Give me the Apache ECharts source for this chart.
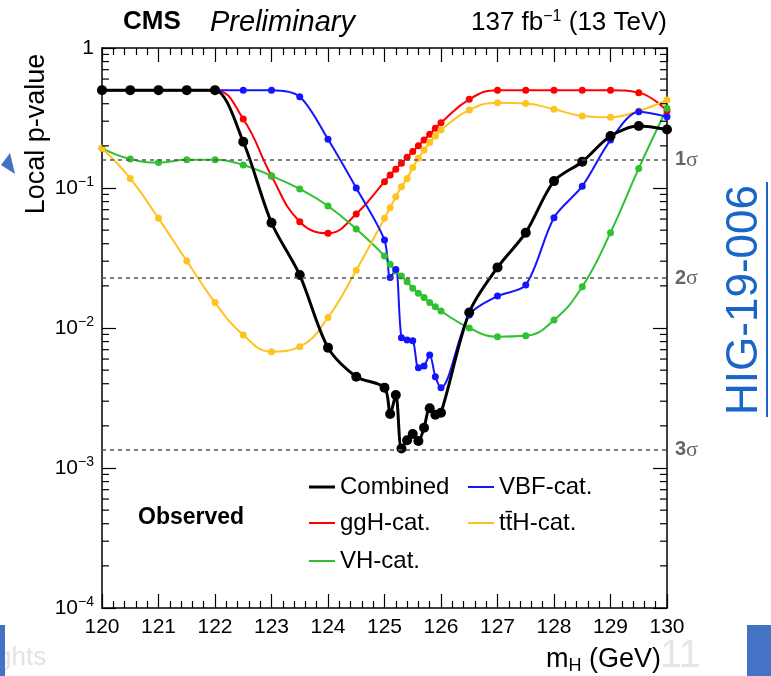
<!DOCTYPE html>
<html>
<head>
<meta charset="utf-8">
<script src="https://cdn.jsdelivr.net/npm/echarts@6/dist/echarts.min.js"></script>
<style>
html, body { margin: 0; padding: 0; background: #fff; }
#main { width: 771px; height: 676px; }
</style>
</head>
<body>
<div id="main"></div>
<script>
// mass points (GeV), shared by all curves
var massH = [120, 120.5, 121, 121.5, 122, 122.5, 123, 123.5, 124, 124.5,
    125, 125.1, 125.2, 125.3, 125.4, 125.5, 125.6, 125.7, 125.8, 125.9, 126,
    126.5, 127, 127.5, 128, 128.5, 129, 129.5, 130];

// local p-values
var pCombined = [0.5, 0.5, 0.5, 0.5, 0.5, 0.214, 0.0565, 0.0239, 0.00724, 0.00449,
    0.00375, 0.00243, 0.00332, 0.00138, 0.00158, 0.00175, 0.00156, 0.00194, 0.00267, 0.0024, 0.00248,
    0.0129, 0.0271, 0.048, 0.112, 0.154, 0.235, 0.277, 0.262];
var pGGH = [0.5, 0.5, 0.5, 0.5, 0.5, 0.311, 0.122, 0.0574, 0.0475, 0.0652,
    0.111, 0.124, 0.136, 0.15, 0.166, 0.182, 0.2, 0.22, 0.242, 0.267, 0.293,
    0.43, 0.5, 0.5, 0.5, 0.5, 0.5, 0.48, 0.355];
var pVBF = [0.5, 0.5, 0.5, 0.5, 0.5, 0.5, 0.5, 0.449, 0.223, 0.1,
    0.0425, 0.0229, 0.0262, 0.00853, 0.0082, 0.0081, 0.0052, 0.00535, 0.00641, 0.00449, 0.00375,
    0.0124, 0.0169, 0.0203, 0.0614, 0.103, 0.22, 0.351, 0.323];
var pVH = [0.192, 0.161, 0.152, 0.159, 0.159, 0.146, 0.122, 0.0984, 0.0744, 0.0509,
    0.0327, 0.0285, 0.0255, 0.0235, 0.0214, 0.0192, 0.0177, 0.0165, 0.0152, 0.0142, 0.0132,
    0.01, 0.00867, 0.00879, 0.0114, 0.0197, 0.048, 0.138, 0.371];
var pTTH = [0.192, 0.117, 0.0607, 0.0301, 0.0152, 0.0089, 0.00677, 0.00736, 0.0119, 0.0259,
    0.0607, 0.0724, 0.0866, 0.102, 0.117, 0.14, 0.163, 0.187, 0.211, 0.235, 0.26,
    0.361, 0.407, 0.402, 0.365, 0.327, 0.32, 0.355, 0.425];

// significance reference lines
var sigmaP = [0.1587, 0.02275, 0.00135];
var sigmaNames = ['1', '2', '3'];

// log axis minor ticks: 2..9 x each decade
var decades = [1e-4, 1e-3, 1e-2, 1e-1];
var minorMult = [2, 3, 4, 5, 6, 7, 8, 9];

var FONT = '"Liberation Sans", Arial, Helvetica, sans-serif';
var names = ['Combined', 'ggH-cat.', 'VH-cat.', 'VBF-cat.', 'tt\u0304H-cat.'];

var minorY = [];
decades.forEach(function (d) {
    minorMult.forEach(function (m) { minorY.push([120, m * d]); });
});

function pairs(arr) {
    return massH.map(function (x, i) { return [x, arr[i]]; });
}

function curve(name, arr, color, width, size, smooth) {
    return {
        name: name,
        type: 'line',
        data: pairs(arr),
        smooth: smooth,
        symbol: 'circle',
        symbolSize: size,
        lineStyle: { color: color, width: width },
        itemStyle: { color: color },
        z: 3
    };
}

function legendItem(name, left, top, h) {
    return {
        data: [name], left: left, top: top, padding: 0,
        icon: 'rect', itemWidth: 26, itemHeight: h, selectedMode: false,
        textStyle: { fontSize: 24, color: '#000', fontFamily: FONT }
    };
}

var tickStyle = { color: '#000', width: 1.2 };

var chart = echarts.init(document.getElementById('main'));

var ggh = curve(names[1], pGGH, '#ff0000', 2, 7, 0.45);
ggh.markLine = {
    silent: true, symbol: 'none', animation: false,
    lineStyle: { color: '#555', type: [4, 4], width: 1.5 },
    label: {
        position: 'end', distance: 8,
        formatter: function (p) { return '{n|' + p.name + '}{g|\u03c3}'; },
        rich: {
            n: { fontSize: 20, fontWeight: 'bold', color: '#666', fontFamily: FONT },
            g: { fontSize: 22, color: '#666', fontFamily: '"Liberation Serif", "Times New Roman", serif' }
        }
    },
    data: sigmaP.map(function (p, i) {
        return [{ coord: [120, p], name: sigmaNames[i] }, { coord: [130, p] }];
    })
};

var option = {
    backgroundColor: '#fff',
    animation: false,
    title: [
        { text: 'CMS', left: 123, top: 9, padding: 0,
          textStyle: { fontSize: 26, fontWeight: 'bold', color: '#000', fontFamily: FONT } },
        { text: 'Preliminary', left: 210, top: 8, padding: 0,
          textStyle: { fontSize: 29, fontStyle: 'italic', fontWeight: 'normal', color: '#000', fontFamily: FONT } },
        { text: '{a|137 fb}{s|\u22121}{a| (13 TeV)}', right: 104, top: 9, padding: 0,
          textStyle: { rich: {
              a: { fontSize: 26, fontWeight: 'normal', color: '#000', fontFamily: FONT },
              s: { fontSize: 16, fontWeight: 'normal', color: '#000', fontFamily: FONT, padding: [0, 0, 12, 0] }
          } } },
        { text: 'Observed', left: 138, top: 506, padding: 0,
          textStyle: { fontSize: 23, fontWeight: 'bold', color: '#000', fontFamily: FONT } },
        { text: '{a|m}{s|H}{a| (GeV)}', right: 110, top: 644, padding: 0,
          textStyle: { rich: {
              a: { fontSize: 27, fontWeight: 'normal', color: '#000', fontFamily: FONT },
              s: { fontSize: 18, fontWeight: 'normal', color: '#000', fontFamily: FONT, padding: [13, 0, 0, 0] }
          } } }
    ],
    legend: [
        legendItem(names[0], 309, 475, 3),
        legendItem(names[3], 468, 475, 2),
        legendItem(names[1], 309, 511, 2),
        legendItem(names[4], 468, 511, 2),
        legendItem(names[2], 309, 549, 2)
    ],
    grid: { left: 102, right: 104, top: 48, bottom: 68 },
    xAxis: [{
        type: 'value', min: 120, max: 130, interval: 1, position: 'bottom',
        axisLine: { lineStyle: { color: '#000', width: 1.5 } },
        axisTick: { inside: true, length: 14, lineStyle: tickStyle },
        minorTick: { show: true, splitNumber: 5, length: 7, lineStyle: tickStyle },
        axisLabel: { fontSize: 21, color: '#000', margin: 9, fontFamily: FONT },
        splitLine: { show: false }
    }, {
        type: 'value', min: 120, max: 130, interval: 1, position: 'top',
        axisLine: { lineStyle: { color: '#000', width: 1.5 } },
        axisTick: { inside: true, length: 14, lineStyle: tickStyle },
        minorTick: { show: true, splitNumber: 5, length: 7, lineStyle: tickStyle },
        axisLabel: { show: false },
        splitLine: { show: false }
    }],
    yAxis: [{
        type: 'log', logBase: 10, min: 1e-4, max: 1, position: 'left',
        axisLine: { show: true, lineStyle: { color: '#000', width: 1.5 } },
        axisTick: { show: true, inside: true, length: 14, lineStyle: tickStyle },
        axisLabel: {
            fontSize: 21, color: '#000', margin: 8, fontFamily: FONT,
            formatter: function (v) {
                var e = Math.round(Math.log10(v));
                if (e === 0) return '{b|1}';
                return '{b|10}{s|\u2212' + (-e) + '}';
            },
            rich: {
                b: { fontSize: 21, color: '#000', fontFamily: FONT },
                s: { fontSize: 14, color: '#000', fontFamily: FONT, padding: [0, 0, 12, 0] }
            }
        },
        splitLine: { show: false }
    }, {
        type: 'log', logBase: 10, min: 1e-4, max: 1, position: 'right',
        axisLine: { show: true, lineStyle: { color: '#000', width: 1.5 } },
        axisTick: { show: true, inside: true, length: 14, lineStyle: tickStyle },
        axisLabel: { show: false },
        splitLine: { show: false }
    }],
    graphic: [
        { type: 'text', x: 37, y: 134, rotation: Math.PI / 2,
          style: { text: 'Local p-value', fontSize: 27, fill: '#000', fontFamily: FONT,
                   align: 'center', verticalAlign: 'middle' } },
        { type: 'text', x: 745, y: 300, rotation: Math.PI / 2,
          style: { text: 'HIG-19-006', fontSize: 44, fill: '#1a66c8', fontFamily: FONT,
                   align: 'center', verticalAlign: 'middle' } },
        { type: 'line', shape: { x1: 767, y1: 182, x2: 767, y2: 417 },
          style: { stroke: '#1a66c8', lineWidth: 2 } },
        { type: 'polygon', shape: { points: [[1, 165], [10, 153], [15, 174]] },
          style: { fill: '#4472c4' } },
        { type: 'rect', shape: { x: 0, y: 625, width: 5, height: 51 }, style: { fill: '#4472c4' } },
        { type: 'rect', shape: { x: 747, y: 625, width: 24, height: 51 }, style: { fill: '#4472c4' } },
        { type: 'text', x: -3, y: 658, z: -1,
          style: { text: 'ghts', fontSize: 26, fill: '#e2e2e2', fontFamily: FONT, verticalAlign: 'middle' } },
        { type: 'text', x: 660, y: 656, z: -1,
          style: { text: '11', fontSize: 39, fill: '#e6e6e6', fontFamily: FONT, verticalAlign: 'middle' } }
    ],
    series: [
        ggh,
        curve(names[2], pVH, '#2fc12f', 2, 7, 0.45),
        curve(names[4], pTTH, '#ffc31f', 2, 7, 0.45),
        curve(names[3], pVBF, '#1414ff', 2, 7, 0.3),
        curve(names[0], pCombined, '#000000', 3, 10, 0.3),
        {
            type: 'custom', silent: true, data: minorY, z: 4,
            renderItem: function (params, api) {
                var v = api.value(1);
                var l = api.coord([120, v]);
                var r = api.coord([130, v]);
                return { type: 'group', children: [
                    { type: 'line', shape: { x1: l[0], y1: l[1], x2: l[0] + 7, y2: l[1] }, style: { stroke: '#000', lineWidth: 1.2 } },
                    { type: 'line', shape: { x1: r[0], y1: r[1], x2: r[0] - 7, y2: r[1] }, style: { stroke: '#000', lineWidth: 1.2 } }
                ] };
            }
        }
    ]
};

chart.setOption(option);
</script>
</body>
</html>
